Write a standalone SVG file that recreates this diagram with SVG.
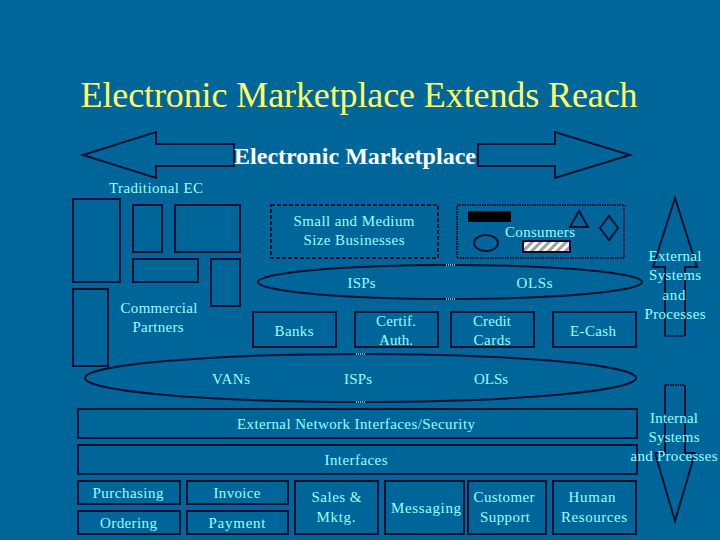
<svg xmlns="http://www.w3.org/2000/svg" width="720" height="540" viewBox="0 0 720 540">
<defs>
<pattern id="hatch" patternUnits="userSpaceOnUse" width="6" height="6" patternTransform="rotate(45)">
<rect width="6" height="6" fill="#ffffff"/>
<rect width="3" height="6" fill="#a0a0a0"/>
</pattern>
</defs>
<style>
.bx{fill:none;stroke:#001133;stroke-width:2}
.ln{fill:none;stroke:#001133;stroke-width:2}
.dot{fill:none;stroke:#001133;stroke-width:2;stroke-dasharray:1.5 1}
.mk{stroke:#8fa6c0;stroke-width:2;stroke-dasharray:1 1}
text{font-family:"Liberation Serif","Times New Roman","DejaVu Serif","Noto Serif",serif}
.t{font-size:15px;fill:#99FFFF;text-anchor:middle}
</style>
<rect width="720" height="540" fill="#006699"/>
<text x="359" y="107" font-size="36" fill="#FFFF66" text-anchor="middle" textLength="557">Electronic Marketplace Extends Reach</text>

<g id="connectors">
<polygon class="ln" points="234,144 156,144 156,132 83,155 156,178 156,166 234,166"/>
<polygon class="ln" points="478,144 555,144 555,132 630,155 555,178 555,166 478,166"/>
<polyline class="ln" points="665,336 665,267 653,267 675,198 697,267 685,267 685,336"/>
<line class="dot" x1="665" y1="336" x2="685" y2="336"/>
<polyline class="ln" points="665,385 665,453 655,453 675,521 695,453 685,453 685,385"/>
<line class="dot" x1="665" y1="385" x2="685" y2="385"/>
</g>

<g id="electronic-marketplace">
<text x="355" y="164" font-size="24" font-weight="bold" fill="#ffffff" text-anchor="middle" textLength="242">Electronic Marketplace</text>
</g>

<g id="traditional-ec">
<text class="t" x="156" y="193" textLength="94">Traditional EC</text>
<rect class="bx" x="73" y="199" width="47" height="83"/>
<rect class="bx" x="133" y="205" width="29" height="47"/>
<rect class="bx" x="175" y="205" width="65" height="47"/>
<rect class="bx" x="133" y="259" width="65" height="23"/>
<rect class="bx" x="211" y="259" width="29" height="47"/>
<rect class="bx" x="73" y="289" width="35" height="77"/>
</g>

<g id="commercial-partners">
<text class="t" x="159" y="313" textLength="77">Commercial</text>
<text class="t" x="158" y="332" textLength="51">Partners</text>
</g>

<g id="smb">
<rect class="bx" x="271" y="205" width="167" height="53" stroke-dasharray="4 2"/>
<text class="t" x="354" y="226" textLength="121">Small and Medium</text>
<text class="t" x="354" y="245" textLength="101">Size Businesses</text>
</g>

<g id="consumers">
<rect class="dot" x="457" y="205" width="167" height="53"/>
<rect x="468" y="211" width="43" height="11" fill="#000000"/>
<ellipse class="ln" cx="486" cy="243" rx="12" ry="8"/>
<rect x="523" y="241" width="47" height="11" fill="url(#hatch)" stroke="#001133" stroke-width="2"/>
<polygon class="ln" points="579,211 588,227 570,227"/>
<polygon class="ln" points="609,216 618,228 609,240 600,228"/>
<text class="t" x="540" y="237" textLength="70">Consumers</text>
</g>

<g id="isp-ols">
<ellipse class="ln" cx="450" cy="282" rx="192" ry="17"/>
<line class="mk" x1="446" y1="265" x2="455" y2="265"/>
<line class="mk" x1="446" y1="299" x2="455" y2="299"/>
<text class="t" x="361.5" y="288" textLength="28">ISPs</text>
<text class="t" x="534.5" y="288" textLength="36">OLSs</text>
</g>

<g id="banks">
<rect class="bx" x="253" y="312" width="83" height="35"/>
<text class="t" x="294" y="336" textLength="39">Banks</text>
</g>
<g id="certif">
<rect class="bx" x="355" y="312" width="83" height="35"/>
<text class="t" x="396" y="326" textLength="40">Certif.</text>
<text class="t" x="396" y="345" textLength="34">Auth.</text>
</g>
<g id="credit">
<rect class="bx" x="451" y="312" width="83" height="35"/>
<text class="t" x="492" y="326" textLength="38">Credit</text>
<text class="t" x="492" y="345" textLength="37">Cards</text>
</g>
<g id="ecash">
<rect class="bx" x="553" y="312" width="83" height="35"/>
<text class="t" x="593" y="336" textLength="46">E-Cash</text>
</g>

<g id="external-systems">
<text class="t" x="675" y="261" textLength="53">External</text>
<text class="t" x="675" y="280" textLength="52">Systems</text>
<text class="t" x="674" y="300" textLength="23">and</text>
<text class="t" x="675" y="319" textLength="61">Processes</text>
</g>

<g id="van-isp-ols">
<ellipse class="ln" cx="360.5" cy="378" rx="275.5" ry="24"/>
<line class="mk" x1="356" y1="354" x2="365" y2="354"/>
<line class="mk" x1="356" y1="402" x2="365" y2="402"/>
<text class="t" x="231" y="384" textLength="38">VANs</text>
<text class="t" x="358" y="384" textLength="28">ISPs</text>
<text class="t" x="491" y="384" textLength="34">OLSs</text>
</g>

<g id="ext-network">
<rect class="bx" x="78" y="409" width="559" height="29"/>
<text class="t" x="356" y="429" textLength="238">External Network Interfaces/Security</text>
</g>

<g id="interfaces">
<rect class="bx" x="78" y="445" width="559" height="29"/>
<text class="t" x="356" y="465" textLength="63">Interfaces</text>
</g>

<g id="internal-systems">
<text class="t" x="674" y="423" textLength="48">Internal</text>
<text class="t" x="674" y="442" textLength="51">Systems</text>
<text class="t" x="674" y="461" textLength="87">and Processes</text>
</g>

<g id="purchasing">
<rect class="bx" x="78" y="481" width="102" height="23"/>
<text class="t" x="128" y="498" textLength="71">Purchasing</text>
</g>
<g id="ordering">
<rect class="bx" x="78" y="511" width="102" height="23"/>
<text class="t" x="128.5" y="528" textLength="57">Ordering</text>
</g>
<g id="invoice">
<rect class="bx" x="187" y="481" width="101" height="23"/>
<text class="t" x="237" y="498" textLength="47">Invoice</text>
</g>
<g id="payment">
<rect class="bx" x="187" y="511" width="101" height="23"/>
<text class="t" x="237" y="528" textLength="57">Payment</text>
</g>
<g id="sales">
<rect class="bx" x="295" y="481" width="83" height="53"/>
<text class="t" x="336.5" y="502" textLength="50">Sales &amp;</text>
<text class="t" x="336" y="522" textLength="39">Mktg.</text>
</g>
<g id="messaging">
<rect class="bx" x="385" y="481" width="79" height="53"/>
<text class="t" x="426" y="513" textLength="70">Messaging</text>
</g>
<g id="customer-support">
<rect class="bx" x="468" y="481" width="78" height="53"/>
<text class="t" x="504" y="502" textLength="61">Customer</text>
<text class="t" x="505" y="522" textLength="50">Support</text>
</g>
<g id="human-resources">
<rect class="bx" x="553" y="481" width="83" height="53"/>
<text class="t" x="592" y="502" textLength="47">Human</text>
<text class="t" x="594" y="522" textLength="66">Resources</text>
</g>
</svg>
